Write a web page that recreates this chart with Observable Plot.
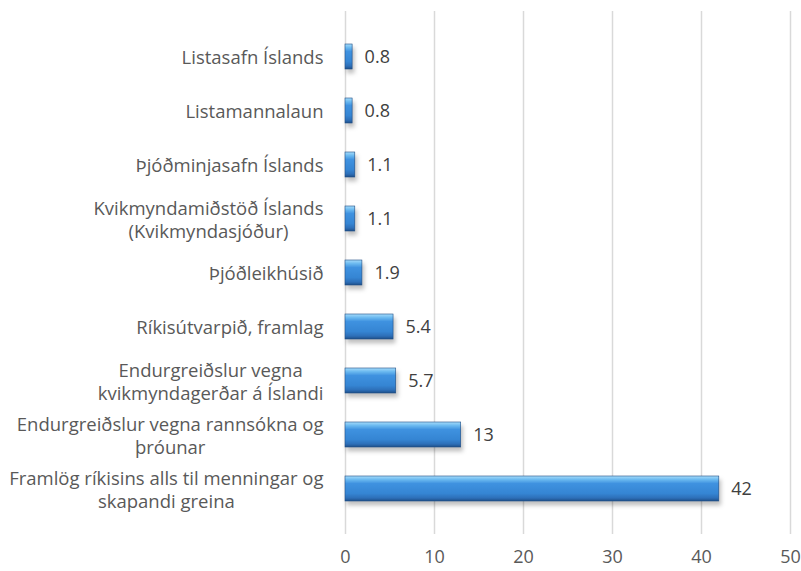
<!DOCTYPE html>
<html>
<head>
<meta charset="utf-8">
<script src="https://cdn.jsdelivr.net/npm/d3@7"></script>
<script src="https://cdn.jsdelivr.net/npm/@observablehq/plot@0.6"></script>
<style>
  html, body { margin: 0; padding: 0; background: #ffffff; }
</style>
</head>
<body>
<div id="chart"></div>
<script>
const categories = [
  "Listasafn Íslands",
  "Listamannalaun",
  "Þjóðminjasafn Íslands",
  "Kvikmyndamiðstöð Íslands\n(Kvikmyndasjóður)",
  "Þjóðleikhúsið",
  "Ríkisútvarpið, framlag",
  "Endurgreiðslur vegna\nkvikmyndagerðar á Íslandi",
  "Endurgreiðslur vegna rannsókna og\nþróunar",
  "Framlög ríkisins alls til menningar og\nskapandi greina"
];
const values = [0.8, 0.8, 1.1, 1.1, 1.9, 5.4, 5.7, 13, 42];
const xTicks = [0, 10, 20, 30, 40, 50];

const data = categories.map((name, i) => ({name, value: values[i]}));

const chart = Plot.plot({
  width: 801,
  height: 571,
  marginLeft: 345,
  marginRight: 11,
  marginTop: 11,
  marginBottom: 37,
  style: {fontFamily: "Open Sans", fontSize: "18px", color: "#595959", background: "#ffffff"},
  x: {domain: [0, 50], ticks: xTicks, tickSize: 0, tickPadding: 16, label: null},
  y: {domain: categories, padding: 0.535, axis: null},
  marks: [
    Plot.ruleX(xTicks, {stroke: "#d9d9d9", strokeWidth: 1.5}),
    Plot.barX(data, {x: "value", y: "name", fill: "url(#barGrad)", stroke: "#1f4e85", strokeWidth: 0.6}),
    Plot.text(data, {x: "value", y: "name", text: d => String(d.value), dx: 12, textAnchor: "start", fill: "#404040", fontSize: 18}),
    Plot.text(data, {x: 0, y: "name", text: "name", dx: -22, textAnchor: "middle", lineHeight: 1.22, fill: "#595959", fontSize: 18.5})
  ]
});

document.getElementById("chart").appendChild(chart);

const svg = d3.select(chart);
const defs = svg.insert("defs", ":first-child");
const g = defs.append("linearGradient").attr("id", "barGrad").attr("x1", 0).attr("y1", 0).attr("x2", 0).attr("y2", 1);
[["0%", "#a6dcfb"], ["14%", "#6cbaf0"], ["30%", "#3f92e0"], ["70%", "#3585d3"], ["88%", "#2d6fb8"], ["100%", "#1e4f88"]]
  .forEach(([o, c]) => g.append("stop").attr("offset", o).attr("stop-color", c));
svg.selectAll('g[aria-label="bar"]').style("filter", "drop-shadow(2px 4px 2px rgba(0,0,0,0.25))");

// center each line of multi-line labels within its block, block right-aligned to the anchor
const textGroups = svg.selectAll('g[aria-label="text"]').nodes();
const labelGroup = textGroups[textGroups.length - 1];
d3.select(labelGroup).selectAll("text").each(function() {
  const w = this.getBBox().width;
  const t = this.getAttribute("transform") || "";
  this.setAttribute("transform", t + ` translate(${-w / 2},0)`);
});
</script>
</body>
</html>
